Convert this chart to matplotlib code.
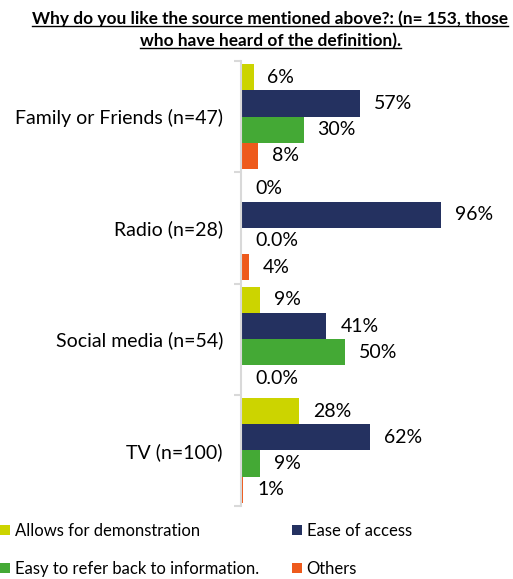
import numpy as np
import matplotlib.pyplot as plt

plt.rcParams['font.family'] = ['Lato', 'DejaVu Sans']

categories = ["Family or Friends (n=47)", "Radio (n=28)", "Social media (n=54)", "TV (n=100)"]
series = ["Allows for demonstration", "Ease of access",
          "Easy to refer back to information.", "Others"]
colors = ["#CCD400", "#243160", "#44A935", "#EE5A1C"]

# share per category, one list per reason
demonstration = [0.06, 0.00, 0.09, 0.28]
ease_access = [0.57, 0.96, 0.41, 0.62]
refer_back = [0.30, 0.00, 0.50, 0.09]
others = [0.08, 0.04, 0.00, 0.01]
values = [demonstration, ease_access, refer_back, others]

# decimals shown on each label (some zero values printed as 0.0%)
decimals = [[0, 0, 0, 0],
            [0, 0, 0, 0],
            [0, 1, 0, 0],
            [0, 0, 1, 0]]

title = "Why do you like the source mentioned above?: (n= 153, those\nwho have heard of the definition)."

fig = plt.figure(figsize=(5.13, 5.79), dpi=100)
ax = fig.add_axes([241 / 513, 1 - 506 / 579, 250 / 513, 445 / 579])

y = np.arange(len(categories))
h = 0.235
offsets = [-1.5 * h, -0.5 * h, 0.5 * h, 1.5 * h]
handles = []
for vals, dec, col, off, name in zip(values, decimals, colors, offsets, series):
    bars = ax.barh(y + off, vals, height=h, color=col, label=name)
    handles.append(bars)
    for b, v, d in zip(bars, vals, dec):
        ax.annotate(f"{v * 100:.{d}f}%", (b.get_width(), b.get_y() + b.get_height() / 2),
                    xytext=(10, 0), textcoords="offset points",
                    va="center", ha="left", fontsize=14, color="#000000")

ax.set_xlim(0, 1.2)
ax.set_ylim(3.5, -0.5)
ax.set_yticks(y)
ax.set_yticklabels(categories, fontsize=14)
ax.set_yticks(np.arange(-0.5, 4, 1), minor=True)
ax.tick_params(axis="y", which="major", length=0, pad=13)
ax.tick_params(axis="y", which="minor", length=5, color="#D9D9D9", width=1.5)
ax.set_xticks([])
for s in ["top", "right", "bottom"]:
    ax.spines[s].set_visible(False)
ax.spines["left"].set_color("#D9D9D9")
ax.spines["left"].set_linewidth(1.5)

# title, underlined line by line
lines = title.split("\n")
fig.canvas.draw()
renderer = fig.canvas.get_renderer()
for i, line in enumerate(lines):
    t = fig.text(0.527, 1 - (19 + 22 * i) / 579, line, ha="center", va="center",
                 fontsize=12.4, fontweight="bold")
    bb = t.get_window_extent(renderer).transformed(fig.transFigure.inverted())
    fig.add_artist(plt.Line2D([bb.x0, bb.x1], [bb.y0 + 0.002, bb.y0 + 0.002],
                              transform=fig.transFigure, color="black", lw=1))

# legend filled column-wise: left column demonstration / refer back
order = [0, 2, 1, 3]
fig.legend([handles[i] for i in order], [series[i] for i in order],
           loc="lower left", bbox_to_anchor=(0.0, 0.004), ncol=2, frameon=False,
           fontsize=12.0, handlelength=0.6, handleheight=0.6, handletextpad=0.3,
           columnspacing=1.95, labelspacing=1.3, borderpad=0, borderaxespad=0)

fig.savefig("out.png", dpi=100)
